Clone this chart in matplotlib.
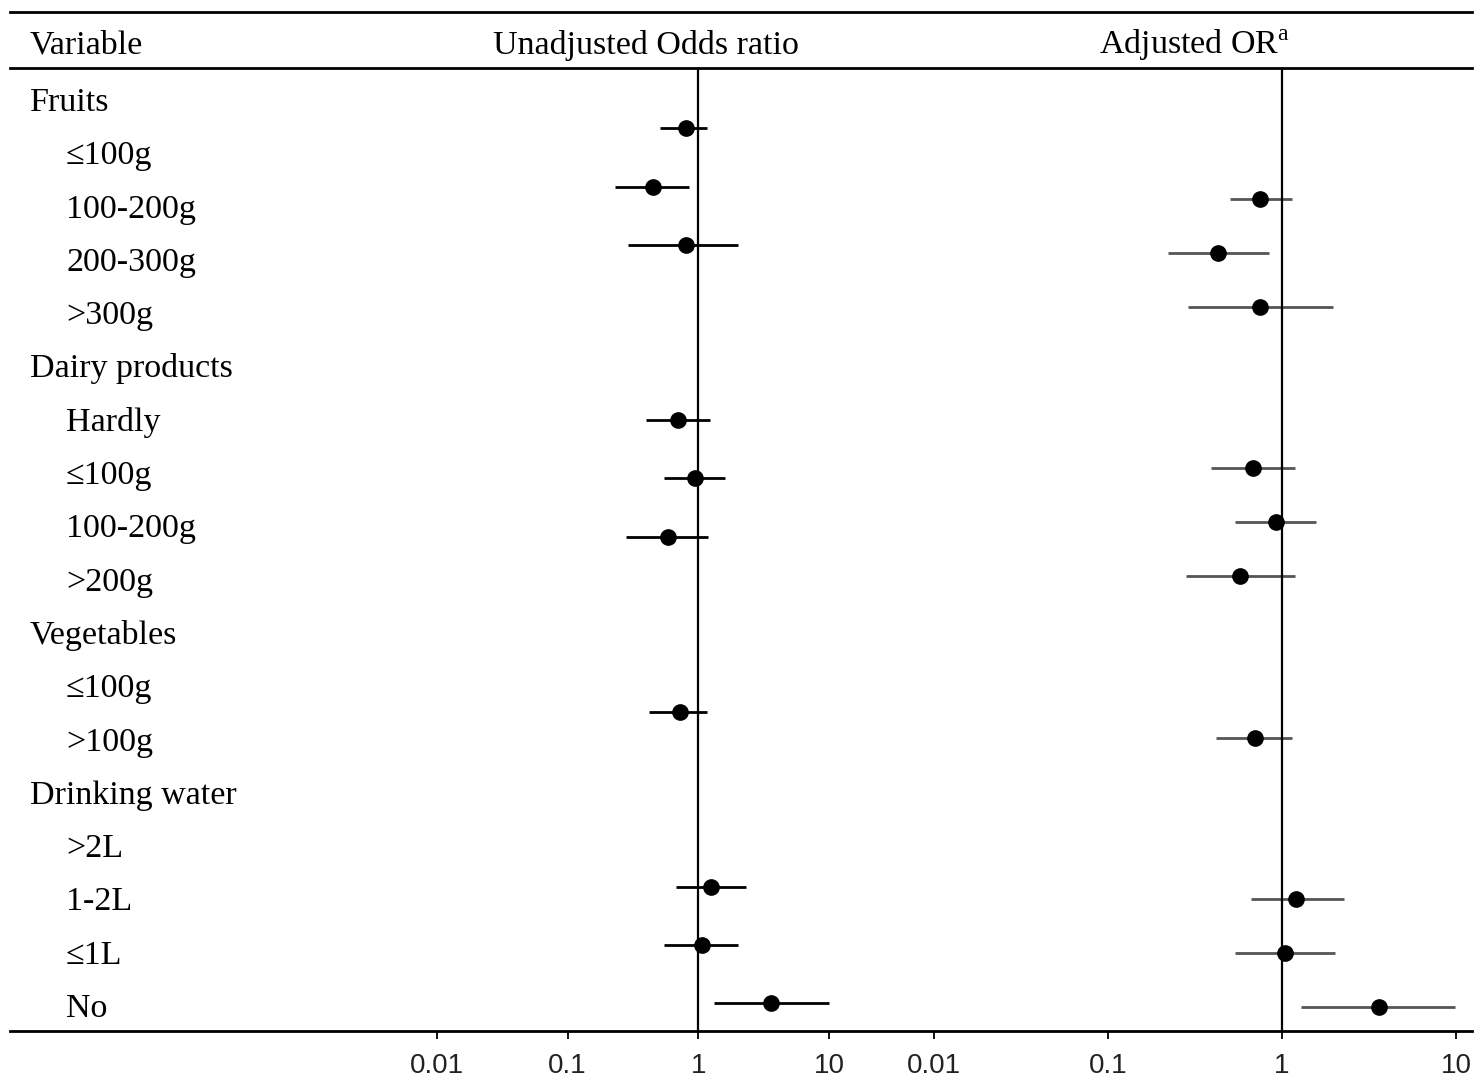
import numpy as np
import matplotlib
matplotlib.use('Agg')
import matplotlib.pyplot as plt
from matplotlib.lines import Line2D

plt.rcParams['font.family'] = ['Liberation Serif', 'DejaVu Serif']
plt.rcParams['mathtext.fontset'] = 'custom'
plt.rcParams['mathtext.rm'] = 'Liberation Serif'

# Row labels (True = indented sub-level)
row_labels = ['Fruits', '≤100g', '100-200g', '200-300g', '>300g',
              'Dairy products', 'Hardly', '≤100g', '100-200g', '>200g',
              'Vegetables', '≤100g', '>100g',
              'Drinking water', '>2L', '1-2L', '≤1L', 'No']
indented = [False, True, True, True, True,
            False, True, True, True, True,
            False, True, True,
            False, True, True, True, True]

nan = np.nan
# Unadjusted odds ratios and 95% CI (nan = header / reference row)
unadj_or = [nan, nan, 0.80, 0.45, 0.80, nan, nan, 0.70, 0.94, 0.59, nan, nan, 0.72, nan, nan, 1.26, 1.07, 3.62]
unadj_lo = [nan, nan, 0.51, 0.23, 0.29, nan, nan, 0.40, 0.55, 0.28, nan, nan, 0.42, nan, nan, 0.67, 0.55, 1.32]
unadj_hi = [nan, nan, 1.16, 0.85, 2.01, nan, nan, 1.23, 1.61, 1.19, nan, nan, 1.16, nan, nan, 2.30, 2.01, 9.94]

# Adjusted odds ratios and 95% CI
adj_or = [nan, nan, 0.75, 0.43, 0.75, nan, nan, 0.68, 0.92, 0.57, nan, nan, 0.70, nan, nan, 1.21, 1.04, 3.60]
adj_lo = [nan, nan, 0.50, 0.22, 0.29, nan, nan, 0.39, 0.54, 0.28, nan, nan, 0.42, nan, nan, 0.66, 0.54, 1.29]
adj_hi = [nan, nan, 1.14, 0.84, 1.96, nan, nan, 1.19, 1.57, 1.19, nan, nan, 1.14, nan, nan, 2.27, 2.02, 9.92]

tick_vals = [0.01, 0.1, 1, 10]
tick_text = ['0.01', '0.1', '1', '10']

W, H = 1475, 1084
fig = plt.figure(figsize=(W / 100, H / 100), dpi=100)


def fx(px):
    return px / W


def fy(py):
    return 1 - py / H


# table rules
for y in [12, 68, 1031]:
    fig.add_artist(Line2D([fx(10), fx(1472)], [fy(y), fy(y)], color='black', lw=2.0))

# header
fs = 24.5
fig.text(fx(30), fy(54), 'Variable', fontsize=fs, va='baseline')
fig.text(fx(646), fy(54), 'Unadjusted Odds ratio', fontsize=fs, va='baseline', ha='center')
fig.text(fx(1099), fy(54), r'Adjusted OR$^{\rm a}$', fontsize=fs, va='baseline', ha='left')

# row labels
for i, (lab, ind) in enumerate(zip(row_labels, indented)):
    fig.text(fx(66 if ind else 30), fy(111 + i * 53.3), lab, fontsize=fs, va='baseline')


def panel(x0, x1, ylim, ors, los, his, ci_color):
    ax = fig.add_axes([fx(x0), fy(1031), fx(x1) - fx(x0), fy(68) - fy(1031)])
    ax.set_xscale('log')
    ax.set_xlim(0.01, 10)
    ax.set_ylim(*ylim)
    rows = np.arange(len(ors))
    ors, los, his = np.array(ors), np.array(los), np.array(his)
    ok = ~np.isnan(ors)
    ax.hlines(rows[ok], los[ok], his[ok], color=ci_color, lw=2, clip_on=False)
    ax.plot(ors[ok], rows[ok], 'o', color='black', ms=11, clip_on=False)
    ax.axvline(1, color='black', lw=1.6)
    for s in ax.spines.values():
        s.set_visible(False)
    ax.set_yticks([])
    ax.set_xticks(tick_vals)
    ax.set_xticklabels(tick_text, family='Liberation Sans', fontsize=20, color='#222222')
    ax.minorticks_off()
    ax.tick_params(axis='x', direction='out', length=6, width=1.3, pad=10)
    ax.patch.set_alpha(0)
    return ax


panel(437, 829, (17.476, 0.966), unadj_or, unadj_lo, unadj_hi, 'black')
panel(934, 1456, (17.45, -0.439), adj_or, adj_lo, adj_hi, '#555555')

fig.savefig('out.png', dpi=100)
